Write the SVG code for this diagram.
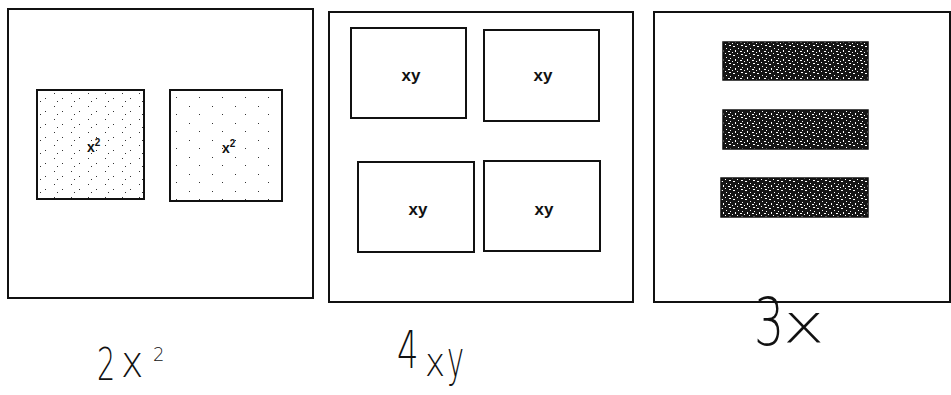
<svg xmlns="http://www.w3.org/2000/svg" width="951" height="395" viewBox="0 0 951 395">
<style>
.panel{fill:#fff;stroke:#111;stroke-width:2}
.box{fill:#fff;stroke:#111;stroke-width:2}
.bar{fill:url(#speck);stroke:#111;stroke-width:1.5}
.lbl{font-family:"Liberation Sans",Arial,sans-serif;font-weight:bold;font-size:17px;fill:#111;text-anchor:middle}
.sq{font-family:"Liberation Sans",Arial,sans-serif;font-weight:bold;font-size:14px;fill:#111}
.hand{font-family:"DejaVu Sans","Liberation Sans",sans-serif;font-weight:200;fill:#111}
</style>
<defs>
<pattern id="speck" width="12" height="9" patternUnits="userSpaceOnUse">
<rect width="12" height="9" fill="#151515"/>
<rect x="1" y="1" width="2" height="1" fill="#fff"/>
<rect x="6" y="3" width="1" height="1" fill="#fff"/>
<rect x="9" y="0" width="2" height="1" fill="#fff"/>
<rect x="3" y="5" width="1" height="2" fill="#fff"/>
<rect x="8" y="6" width="2" height="1" fill="#fff"/>
<rect x="0" y="7" width="1" height="1" fill="#fff"/>
<rect x="5" y="8" width="1" height="1" fill="#fff"/>
<rect x="10" y="4" width="1" height="1" fill="#fff"/>
</pattern>
<pattern id="dots" width="17" height="13" patternUnits="userSpaceOnUse">
<rect x="3" y="2" width="1" height="1" fill="#333"/>
<rect x="11" y="7" width="1" height="1" fill="#333"/>
<rect x="6" y="10" width="1" height="1" fill="#333"/>
</pattern>
<pattern id="dots2" width="23" height="17" patternUnits="userSpaceOnUse">
<rect x="5" y="4" width="1" height="1" fill="#333"/>
<rect x="15" y="12" width="1" height="1" fill="#333"/>
</pattern>
</defs>

<g id="panel-2x2">
<rect class="panel" x="8" y="9" width="305" height="289"/>
<g id="x2-a">
<rect class="box" x="37" y="90" width="107" height="109"/>
<rect x="38" y="91" width="105" height="107" fill="url(#dots)"/>
<text class="sq" x="87" y="152">x<tspan font-size="10" dy="-6">2</tspan></text>
</g>
<g id="x2-b">
<rect class="box" x="170" y="90" width="112" height="111"/>
<rect x="171" y="91" width="110" height="109" fill="url(#dots2)"/>
<text class="sq" x="222" y="153">x<tspan font-size="10" dy="-6">2</tspan></text>
</g>
</g>

<g id="panel-4xy">
<rect class="panel" x="329" y="12" width="304" height="290"/>
<g id="xy-a"><rect class="box" x="351" y="28" width="115" height="90"/><text class="lbl" x="411" y="81">xy</text></g>
<g id="xy-b"><rect class="box" x="484" y="30" width="115" height="91"/><text class="lbl" x="543" y="81">xy</text></g>
<g id="xy-c"><rect class="box" x="358" y="162" width="116" height="90"/><text class="lbl" x="418" y="215">xy</text></g>
<g id="xy-d"><rect class="box" x="484" y="161" width="116" height="90"/><text class="lbl" x="544" y="215">xy</text></g>
</g>

<g id="panel-3x">
<rect class="panel" x="654" y="12" width="296" height="290"/>
<g id="x-1"><rect class="bar" x="723" y="42" width="145" height="38"/></g>
<g id="x-2"><rect class="bar" x="723" y="110" width="145" height="39"/></g>
<g id="x-3"><rect class="bar" x="721" y="178" width="147" height="39"/></g>
</g>

<g id="labels">
<g id="label-2x2">
<text class="hand" font-size="44" transform="translate(97,380) scale(0.65,1)">2</text>
<text class="hand" font-size="42" transform="translate(121,377) scale(0.9,1.05)">x</text>
<text class="hand" font-size="20" transform="translate(153,361) scale(0.9,1)">2</text>
</g>
<g id="label-4xy">
<text class="hand" font-size="52" transform="translate(397,368) scale(0.65,1)">4</text>
<text class="hand" font-size="40" transform="translate(425,376) scale(0.85,1)">x</text>
<text class="hand" font-size="40" transform="translate(447,376) scale(0.72,1.25)">y</text>
</g>
<g id="label-3x">
<text class="hand" font-size="66" transform="translate(754,345) scale(0.72,1)">3</text>
<text class="hand" font-size="54" transform="translate(783,342) scale(1.3,1)">x</text>
</g>
</g>
</svg>
